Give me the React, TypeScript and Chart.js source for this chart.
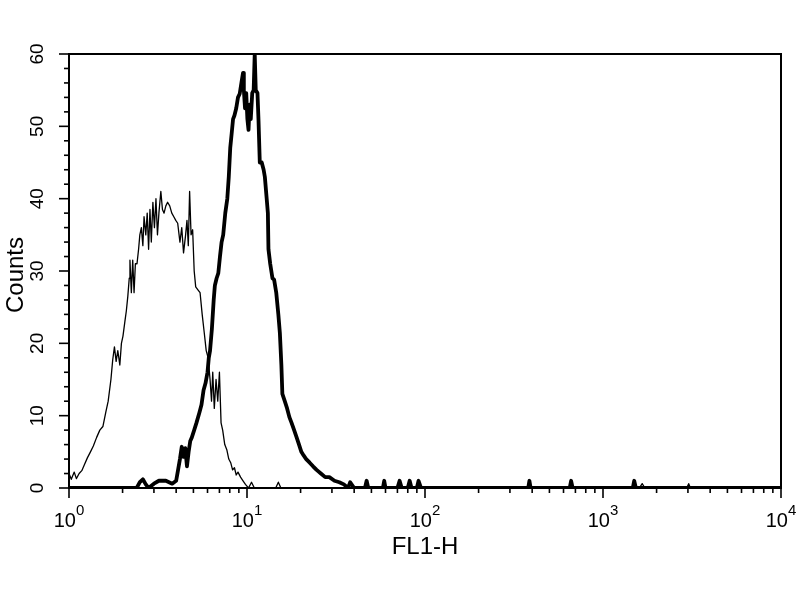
import { useEffect, useRef } from 'react'
import { Chart, registerables } from 'chart.js'

Chart.register(...registerables)

// control (thin line): FL1-H channel value and event count
const controlFL1 = [
  1.0, 1.03, 1.07, 1.1, 1.14, 1.18, 1.22, 1.27, 1.32, 1.37,
  1.43, 1.49, 1.55, 1.61, 1.66, 1.72, 1.76, 1.8, 1.84, 1.88,
  1.93, 1.97, 2.01, 2.06, 2.1, 2.14, 2.18, 2.2, 2.24, 2.28,
  2.32, 2.36, 2.41, 2.46, 2.5, 2.55, 2.6, 2.64, 2.7, 2.75,
  2.8, 2.85, 2.9, 2.96, 3.02, 3.08, 3.14, 3.2, 3.28, 3.35,
  3.42, 3.5, 3.58, 3.68, 3.78, 3.88, 3.98, 4.08, 4.2, 4.3,
  4.4, 4.52, 4.6, 4.68, 4.76, 4.85, 4.95, 5.05, 5.15, 5.3,
  5.45, 5.6, 5.75, 5.9, 6.05, 6.2, 6.32, 6.42, 6.55, 6.7,
  6.85, 7.0, 7.15, 7.3, 7.5, 7.7, 7.9, 8.1, 8.3, 8.5,
  8.7, 8.9, 9.2, 9.5, 9.8, 10.2, 10.6, 11.0, 14.5, 15.0,
  15.5, 1600, 1660, 1720, 2950, 3030, 3100, 10000,
]
const controlCounts = [
  2, 1.2, 2.2, 1.3, 2, 2.4, 3.2, 4.2, 5, 5.8,
  7, 8, 8.5, 10.5, 12, 15, 17.7, 19.5, 17.5, 19,
  17, 20, 21, 23, 24.5, 26.5, 29, 31.5, 27, 31.5,
  27, 31, 31, 33, 35, 36, 33.5, 37.5, 35, 38,
  33, 38.5, 34, 39.5, 36, 40, 35, 38, 41, 38.5,
  38, 39, 39.5, 39, 38, 37.5, 37, 36.6, 34, 36,
  32.5, 35, 37, 33.5, 41, 35, 35.7, 30, 27.8, 27.4,
  27, 24, 21.5, 19, 18, 15, 12, 16, 11, 15,
  12, 16, 9, 8, 6, 5.3, 4, 3.5, 2.5, 2.8,
  1.8, 2.2, 1.5, 1, 0.5, 0, 0.8, 0, 0, 0.8,
  0, 0, 0.6, 0, 0, 0.6, 0, 0,
]

// stained sample (thick line)
const stainedFL1 = [
  1, 2.4, 2.5, 2.6, 2.7, 2.8, 3.0, 3.2, 3.5, 3.8,
  4.0, 4.1, 4.2, 4.3, 4.4, 4.5, 4.6, 4.7, 4.8, 4.9,
  5.05, 5.2, 5.4, 5.55, 5.7, 5.85, 6.0, 6.1, 6.2, 6.35,
  6.5, 6.6, 6.75, 6.9, 7.05, 7.2, 7.35, 7.55, 7.75, 7.9,
  8.05, 8.2, 8.35, 8.5, 8.7, 8.9, 9.1, 9.3, 9.5, 9.6,
  9.75, 9.9, 10.05, 10.2, 10.35, 10.5, 10.7, 10.9, 11.05, 11.2,
  11.45, 11.6, 11.8, 12.1, 12.4, 12.6, 12.9, 13.1, 13.2, 13.5,
  13.9, 14.2, 14.6, 15.0, 15.3, 15.6, 15.8, 16.3, 16.8, 17.3,
  17.8, 18.4, 19.0, 19.6, 20.2, 20.8, 21.5, 22.5, 23.5, 24.6,
  26, 27.5, 29, 31, 33, 35, 37, 38, 40, 46,
  47, 48, 58, 59, 60, 70, 72, 74, 80, 82,
  84, 90, 92, 95, 380, 386, 392, 650, 662, 675,
  1470, 1497, 1530, 10000,
]
const stainedCounts = [
  0, 0, 0.8, 1.2, 0.5, 0, 0.6, 1, 1, 0.6,
  1, 2.5, 4, 5.7, 4.3, 5.5, 3, 5, 6.5, 7,
  8, 9, 10.4, 11.5, 13.5, 14.5, 16, 18, 19, 22,
  26, 28, 29, 29.7, 32, 34, 35, 38, 40, 43,
  47, 49, 51, 51.5, 52.5, 54, 54.5, 56, 57.4, 55,
  52.5, 54.6, 51, 49.5, 53, 51, 54.6, 55, 60, 55,
  54.6, 51, 45, 45, 44, 43, 40, 38, 33, 31,
  29, 28.8, 27, 24, 21.4, 17, 13, 12, 11, 9.8,
  9, 8, 7, 6, 5, 4.5, 4, 3.5, 3, 2.5,
  2, 1.5, 1.5, 1, 0.8, 0.5, 0, 0.8, 0, 0,
  1, 0, 0, 1, 0, 0, 1, 0, 0, 1,
  0, 0, 1, 0, 0, 1, 0, 0, 1, 0,
  0, 1, 0, 0,
]

const xDecades = [1, 10, 100, 1000, 10000]
const xExponents = ['0', '1', '2', '3', '4']
const yTicks = [0, 10, 20, 30, 40, 50, 60]
const xTitle = 'FL1-H'
const yTitle = 'Counts'

const FONT = '"Liberation Sans", Arial, Helvetica, sans-serif'

// frame, tick marks and labels, drawn on the chart's own scales
const facsAxes = {
    id: 'facsAxes',
    afterDraw(chart: any) {
        const { ctx, chartArea: a, scales } = chart
        const xs = scales.x
        const ys = scales.y
        ctx.save()
        ctx.strokeStyle = '#000'
        ctx.fillStyle = '#000'
        ctx.lineWidth = 2
        ctx.strokeRect(a.left, a.top, a.right - a.left, a.bottom - a.top)

        const seg = (x1: number, y1: number, x2: number, y2: number) => {
            ctx.beginPath()
            ctx.moveTo(x1, y1)
            ctx.lineTo(x2, y2)
            ctx.stroke()
        }

        // y ticks: major every 10, minor every 2
        ctx.lineWidth = 1.6
        for (let v = 0; v <= 60; v += 2) {
            const py = ys.getPixelForValue(v)
            const len = v % 10 === 0 ? 10 : 5
            seg(a.left - len, py, a.left, py)
        }
        // x ticks: decades long, 2..9 short
        xDecades.forEach((d, i) => {
            seg(xs.getPixelForValue(d), a.bottom, xs.getPixelForValue(d), a.bottom + 10)
            if (i === xDecades.length - 1) return
            for (let m = 2; m <= 9; m++) {
                const px = xs.getPixelForValue(d * m)
                seg(px, a.bottom, px, a.bottom + 5)
            }
        })

        // x tick labels 10^n
        ctx.textBaseline = 'alphabetic'
        ctx.textAlign = 'left'
        xDecades.forEach((d, i) => {
            const px = xs.getPixelForValue(d)
            ctx.font = `20px ${FONT}`
            const wBase = ctx.measureText('10').width
            ctx.font = `15px ${FONT}`
            const wSup = ctx.measureText(xExponents[i]).width
            const left = px - (wBase + wSup) / 2
            ctx.font = `20px ${FONT}`
            ctx.fillText('10', left, a.bottom + 39)
            ctx.font = `15px ${FONT}`
            ctx.fillText(xExponents[i], left + wBase, a.bottom + 27)
        })

        // y tick labels, rotated
        ctx.font = `19px ${FONT}`
        ctx.textAlign = 'center'
        yTicks.forEach((v) => {
            const py = ys.getPixelForValue(v)
            ctx.save()
            ctx.translate(a.left - 26, py)
            ctx.rotate(-Math.PI / 2)
            ctx.fillText(String(v), 0, 0)
            ctx.restore()
        })

        // axis titles
        ctx.font = `24px ${FONT}`
        ctx.fillText(xTitle, (a.left + a.right) / 2, a.bottom + 66)
        ctx.save()
        ctx.translate(a.left - 46, 275)
        ctx.rotate(-Math.PI / 2)
        ctx.fillText(yTitle, 0, 0)
        ctx.restore()
        ctx.restore()
    },
}

export default function App() {
    const canvasRef = useRef<HTMLCanvasElement | null>(null)
    const chartRef = useRef<Chart | null>(null)

    useEffect(() => {
        document.body.style.margin = '0'
        if (!canvasRef.current) return
        const ctx = canvasRef.current.getContext('2d')!

        if (chartRef.current) {
            chartRef.current.destroy()
            chartRef.current = null
        }

        chartRef.current = new Chart(ctx, {
            type: 'line',
            data: {
                datasets: [
                    {
                        label: 'Control',
                        data: controlFL1.map((x, i) => ({ x, y: controlCounts[i] })),
                        borderColor: '#000',
                        borderWidth: 1.3,
                        pointRadius: 0,
                        tension: 0,
                        fill: false,
                        borderJoinStyle: 'round',
                    },
                    {
                        label: 'Stained',
                        data: stainedFL1.map((x, i) => ({ x, y: stainedCounts[i] })),
                        borderColor: '#000',
                        borderWidth: 3.8,
                        pointRadius: 0,
                        tension: 0,
                        fill: false,
                        borderJoinStyle: 'round',
                    },
                ],
            },
            options: {
                animation: false,
                responsive: false,
                layout: { padding: { top: 54, right: 19, left: 0, bottom: 0 } },
                plugins: {
                    legend: { display: false },
                    tooltip: { enabled: false },
                },
                scales: {
                    x: {
                        type: 'logarithmic',
                        min: 1,
                        max: 10000,
                        ticks: { display: false },
                        grid: { display: false },
                        border: { display: false },
                        afterFit: (s: any) => { s.height = 112 },
                    },
                    y: {
                        min: 0,
                        max: 60,
                        ticks: { display: false },
                        grid: { display: false },
                        border: { display: false },
                        afterFit: (s: any) => { s.width = 69 },
                    },
                },
            },
            plugins: [facsAxes],
        })

        return () => chartRef.current?.destroy()
    }, [])

    return <canvas ref={canvasRef} width={800} height={600} style={{ display: 'block' }} />
}
